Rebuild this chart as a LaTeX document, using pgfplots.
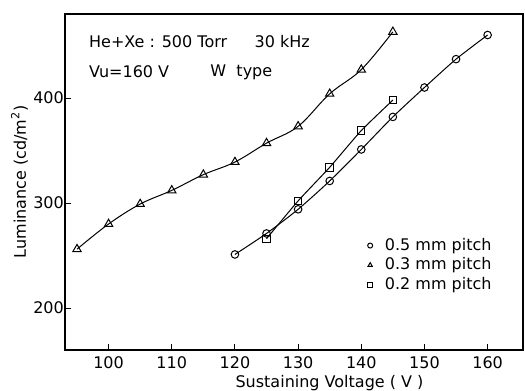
\documentclass[border=0pt]{standalone}
\usepackage{fontspec}
\setmainfont{DejaVu Sans}
\usepackage{pgfplots}
\pgfplotsset{compat=1.18}
\begin{document}
\fontsize{16}{19}\selectfont
\begin{tikzpicture}
\useasboundingbox (-65pt,-41pt) rectangle (460pt,350pt);
\begin{axis}[
  at={(0pt,0pt)}, anchor=south west,
  scale only axis, width=458pt, height=336pt,
  xmin=93.1, xmax=165.6, ymin=160, ymax=480,
  xtick={100,110,...,160}, ytick={200,300,400},
  xtick pos=left, ytick pos=left, tick align=inside,
  major tick length=6pt,
  axis line style={line width=1.5pt},
  tick style={line width=1pt, black},
  /pgf/number format/assume math mode=true,
  ticklabel style={font=\fontsize{16}{19}\selectfont},
  yticklabel style={inner sep=1pt},
  xticklabel style={yshift=-1pt},
  label style={font=\fontsize{16}{19}\selectfont},
  xlabel={Sustaining Voltage ( V )},
  ylabel={Luminance (cd/m\textsuperscript{2})},
  xlabel style={at={(axis description cs:0.5775,-0.098)}, anchor=center},
  ylabel style={at={(axis description cs:-0.0993,0.5)}, anchor=center},
  legend style={at={(axis description cs:0.65,0.345)}, anchor=north west,
    draw=none, fill=none, font=\fontsize{16}{19}\selectfont, row sep=1pt},
  legend cell align=left,
  legend image code/.code={\path[draw=none] (-0.1cm,0cm) -- (0.5cm,0cm);\draw[#1, mark size=2.5pt] plot[only marks] coordinates {(0.05cm,0cm)};},
  every axis plot/.append style={line width=1pt, black, mark options={fill=white, solid, line width=1pt}},
]
\addplot[smooth, tension=0.4, mark=o, mark size=3.8pt] coordinates {
 (120,251) (125,271) (130,294) (135,321) (140,351) (145,382) (150,410) (155,437) (160,460)};
\addlegendentry{0.5 mm pitch}
\addplot[smooth, tension=0.6, mark=triangle, mark size=4.8pt] coordinates {
 (95,256) (100,280) (105,299) (110,312) (115,327) (120,339) (125,357) (130,373) (135,404) (140,427) (145,463)};
\addlegendentry{0.3 mm pitch}
\addplot[smooth, tension=0.3, mark=square, mark size=3.7pt] coordinates {
 (125,266) (130,302) (135,334) (140,369) (145,398)};
\addlegendentry{0.2 mm pitch}
\node[anchor=west, inner sep=0pt] at (axis cs:96.9,453.4) {He+Xe : 500 Torr};
\node[anchor=west, inner sep=0pt] at (axis cs:123.1,453.4) {30 kHz};
\node[anchor=west, inner sep=0pt] at (axis cs:96.9,424.9) {Vu=160 V};
\node[anchor=west, inner sep=0pt] at (axis cs:116.1,424.9) {W\ \ type};
\end{axis}
\end{tikzpicture}
\end{document}
